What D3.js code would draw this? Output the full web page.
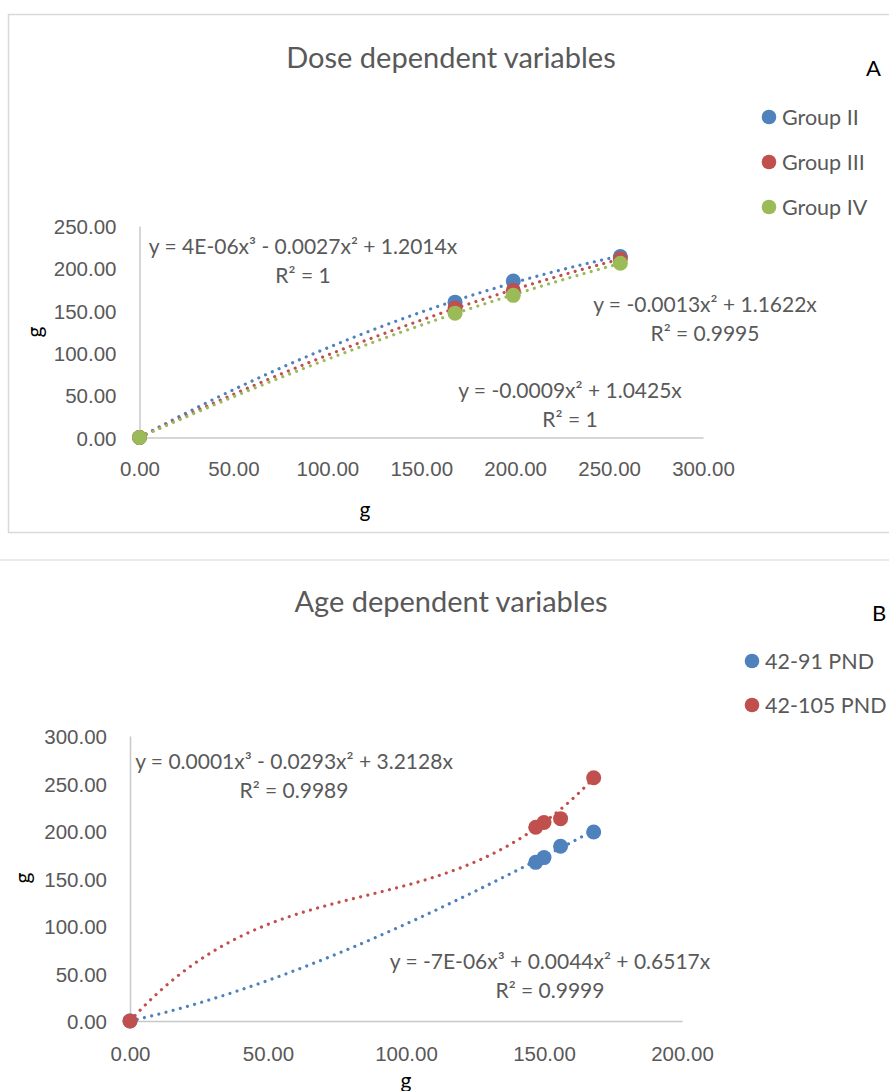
<!DOCTYPE html>
<html>
<head>
<meta charset="utf-8">
<script src="https://cdn.jsdelivr.net/npm/d3@7"></script>
<style>
  html, body { margin: 0; padding: 0; background: #fff; }
  svg { display: block; font-family: Lato, "Open Sans", sans-serif; }
  text { fill: #595959; }
</style>
</head>
<body>
<svg id="chart" width="889" height="1091"></svg>
<script>
// ---------- Panel A data ----------
const doseX = [0, 168, 199, 256];
const group2 = [0, 160, 185, 214];
const group3 = [0, 153, 174, 211];
const group4 = [0, 147, 168, 206];
const doseSeries = ["Group II", "Group III", "Group IV"];
const doseTicksX = [0, 50, 100, 150, 200, 250, 300];
const doseTicksY = [0, 50, 100, 150, 200, 250];
const doseEquations = [
  ["y = 4E-06x³ - 0.0027x² + 1.2014x", "R² = 1"],
  ["y = -0.0013x² + 1.1622x", "R² = 0.9995"],
  ["y = -0.0009x² + 1.0425x", "R² = 1"]
];
// polynomial order of the least-squares trendline (intercept fixed at 0)
const doseTrendOrder = [2, 2, 2];

// ---------- Panel B data ----------
const ageX = [0, 147, 150, 156, 168];
const pnd91 = [0, 167, 172, 184, 199];
const pnd105 = [0, 204, 209, 213, 256];
const ageSeries = ["42-91 PND", "42-105 PND"];
const ageTicksX = [0, 50, 100, 150, 200];
const ageTicksY = [0, 50, 100, 150, 200, 250, 300];
const ageEquations = [
  ["y = -7E-06x³ + 0.0044x² + 0.6517x", "R² = 0.9999"],
  ["y = 0.0001x³ - 0.0293x² + 3.2128x", "R² = 0.9989"]
];
// trendline coefficients [x, x², x³]
const pnd91Trend = [0.6517, 0.0044, -0.000007];
const pnd105Trend = [3.2128, -0.0293, 0.0001145];

const colors3 = ["#4F81BD", "#C0504D", "#9BBB59"];
const fmt = d3.format(".2f");

function polyFn(coef) {
  return x => coef.reduce((s, c, i) => s + c * Math.pow(x, i + 1), 0);
}
// least-squares polynomial with zero intercept (Excel trendline, intercept = 0)
function fitThroughOrigin(xs, ys, deg) {
  const n = deg;
  const A = Array.from({length: n}, () => new Array(n + 1).fill(0));
  for (let k = 0; k < xs.length; k++) {
    const x = xs[k], y = ys[k];
    for (let i = 0; i < n; i++) {
      for (let j = 0; j < n; j++) A[i][j] += Math.pow(x, i + 1) * Math.pow(x, j + 1);
      A[i][n] += Math.pow(x, i + 1) * y;
    }
  }
  for (let i = 0; i < n; i++) {
    let p = i;
    for (let r = i + 1; r < n; r++) if (Math.abs(A[r][i]) > Math.abs(A[p][i])) p = r;
    [A[i], A[p]] = [A[p], A[i]];
    for (let r = 0; r < n; r++) {
      if (r === i) continue;
      const f = A[r][i] / A[i][i];
      for (let c = i; c <= n; c++) A[r][c] -= f * A[i][c];
    }
  }
  return polyFn(A.map((row, i) => row[n] / row[i]));
}

const svg = d3.select("#chart");

function panel(cfg) {
  const g = svg.append("g");
  const x = d3.scaleLinear().domain(cfg.xDomain).range(cfg.xRange);
  const y = d3.scaleLinear().domain(cfg.yDomain).range(cfg.yRange);

  // title
  g.append("text").attr("x", cfg.titlePos[0]).attr("y", cfg.titlePos[1])
    .attr("text-anchor", "middle").attr("dominant-baseline", "central")
    .style("font-size", "29px").text(cfg.title);
  g.append("text").attr("x", cfg.letterPos[0]).attr("y", cfg.letterPos[1])
    .attr("dominant-baseline", "central").style("font-size", "22px")
    .style("fill", "#000").text(cfg.letter);

  // axes
  const xAxis = g.append("g").attr("transform", `translate(0,${y(0)})`)
    .call(d3.axisBottom(x).tickValues(cfg.xTicks).tickFormat(fmt).tickSize(0).tickPadding(20));
  const yAxis = g.append("g").attr("transform", `translate(${x(0)},0)`)
    .call(d3.axisLeft(y).tickValues(cfg.yTicks).tickFormat(fmt).tickSize(0).tickPadding(23));
  [xAxis, yAxis].forEach(a => {
    a.select(".domain").attr("stroke", "#c8c8c8").attr("stroke-width", 1.5);
    a.selectAll("text").style("font-size", "20.5px").style("fill", "#595959")
      .attr("font-family", null);
  });
  xAxis.selectAll("text").attr("dy", null).attr("dominant-baseline", "central")
    .attr("y", cfg.xLabelY - y(0));
  yAxis.selectAll("text").attr("dy", null).attr("dominant-baseline", "central");

  // axis titles
  g.append("text").attr("x", cfg.xTitlePos[0]).attr("y", cfg.xTitlePos[1])
    .attr("text-anchor", "middle").attr("dominant-baseline", "central")
    .style("font-size", "21px").style("fill", "#000").text("g");
  g.append("text").attr("transform", `translate(${cfg.yTitlePos[0]},${cfg.yTitlePos[1]}) rotate(-90)`)
    .attr("text-anchor", "middle").attr("dominant-baseline", "central")
    .style("font-size", "21px").style("fill", "#000").text("g");

  // trendlines
  cfg.series.forEach(s => {
    const f = s.trend;
    const xmax = d3.max(cfg.xs);
    const pts = d3.range(0, xmax + 0.001, xmax / 200).map(v => [v, f(v)]);
    g.append("path").datum(pts)
      .attr("d", d3.line().x(d => x(d[0])).y(d => y(d[1])))
      .attr("fill", "none").attr("stroke", s.color).attr("stroke-width", 3.2)
      .attr("stroke-linecap", "round").attr("stroke-dasharray", "0.01 7.4");
  });
  // markers
  cfg.series.forEach(s => {
    g.append("g").selectAll("circle").data(cfg.xs.map((v, k) => [v, s.values[k]]))
      .join("circle").attr("cx", d => x(d[0])).attr("cy", d => y(d[1]))
      .attr("r", 7.5).attr("fill", s.color);
  });

  // equations
  cfg.series.forEach(s => {
    s.eq.forEach((line, k) => {
      g.append("text").attr("x", s.eqPos[0]).attr("y", s.eqPos[1] + k * 29)
        .attr("text-anchor", "middle").attr("dominant-baseline", "central")
        .style("font-size", "21px").text(line);
    });
  });

  // legend
  cfg.series.forEach((s, i) => {
    const ly = cfg.legendPos[1] + i * cfg.legendStep;
    g.append("circle").attr("cx", cfg.legendPos[0]).attr("cy", ly).attr("r", 7.3).attr("fill", s.color);
    g.append("text").attr("x", cfg.legendPos[0] + 13).attr("y", ly)
      .attr("dominant-baseline", "central").style("font-size", "21.5px").text(s.name);
  });
}

// panel borders
svg.append("rect").attr("x", 8.5).attr("y", 14.5).attr("width", 900).attr("height", 518)
  .attr("fill", "none").attr("stroke", "#d9d9d9").attr("stroke-width", 1.5);
svg.append("line").attr("x1", 0).attr("x2", 889).attr("y1", 560).attr("y2", 560)
  .attr("stroke", "#e3e3e3").attr("stroke-width", 1.5);

panel({
  title: "Dose dependent variables", titlePos: [451, 56], letter: "A", letterPos: [866, 67],
  xDomain: [0, 300], xRange: [139.5, 703], yDomain: [0, 250], yRange: [437.5, 226],
  xTicks: doseTicksX, yTicks: doseTicksY, xLabelY: 468,
  xTitlePos: [365, 508], yTitlePos: [33, 332],
  xs: doseX,
  series: [
    {name: doseSeries[0], values: group2, color: colors3[0], trend: fitThroughOrigin(doseX, group2, doseTrendOrder[0]), eq: doseEquations[0], eqPos: [303, 245]},
    {name: doseSeries[1], values: group3, color: colors3[1], trend: fitThroughOrigin(doseX, group3, doseTrendOrder[1]), eq: doseEquations[1], eqPos: [705, 303]},
    {name: doseSeries[2], values: group4, color: colors3[2], trend: fitThroughOrigin(doseX, group4, doseTrendOrder[2]), eq: doseEquations[2], eqPos: [570, 389]}
  ],
  legendPos: [769, 117], legendStep: 45
});

panel({
  title: "Age dependent variables", titlePos: [451, 600], letter: "B", letterPos: [872, 612],
  xDomain: [0, 200], xRange: [130, 682], yDomain: [0, 300], yRange: [1021, 736],
  xTicks: ageTicksX, yTicks: ageTicksY, xLabelY: 1053,
  xTitlePos: [406, 1079], yTitlePos: [21, 878],
  xs: ageX,
  series: [
    {name: ageSeries[0], values: pnd91, color: colors3[0], trend: polyFn(pnd91Trend), eq: ageEquations[0], eqPos: [550, 960]},
    {name: ageSeries[1], values: pnd105, color: colors3[1], trend: polyFn(pnd105Trend), eq: ageEquations[1], eqPos: [294, 760]}
  ],
  legendPos: [752, 661], legendStep: 44
});
</script>
</body>
</html>
